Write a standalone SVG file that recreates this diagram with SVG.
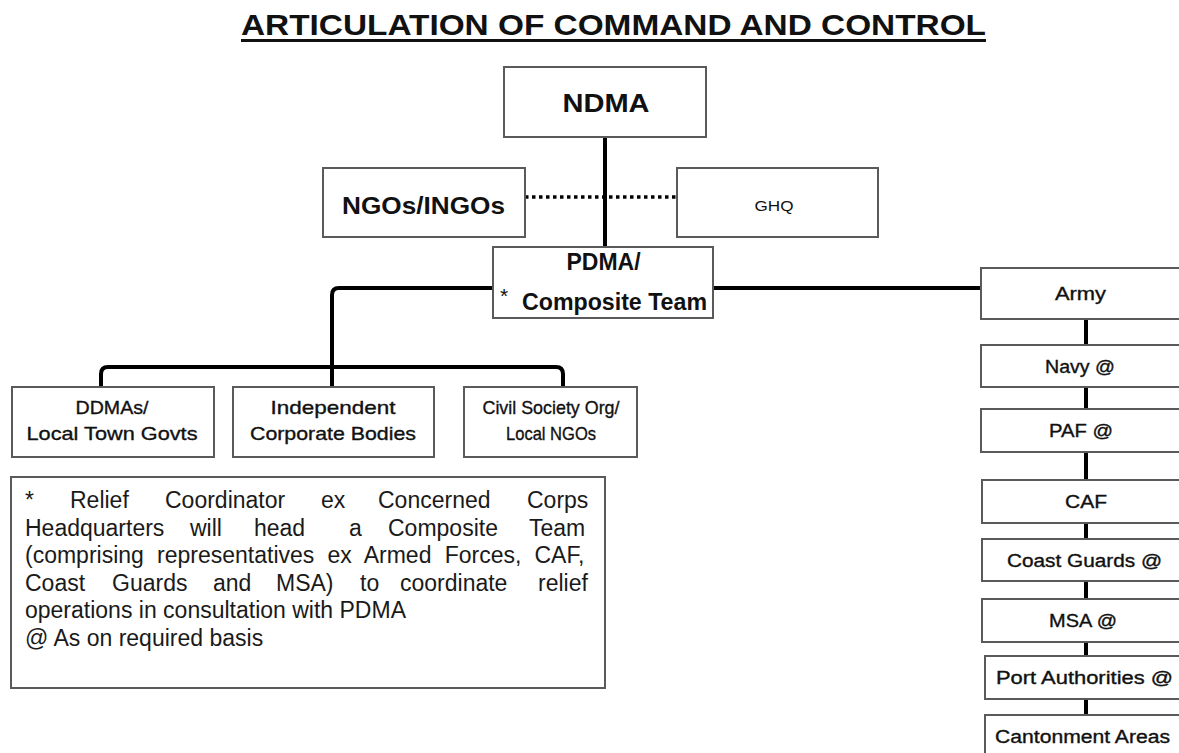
<svg xmlns="http://www.w3.org/2000/svg" width="1179" height="753" viewBox="0 0 1179 753">
<style>
.box{fill:#fff;stroke:#5a5a5a;stroke-width:2}
.conn{fill:none;stroke:#000;stroke-width:4;stroke-linejoin:round}
.dot{fill:none;stroke:#000;stroke-width:3.5;stroke-dasharray:3.5 3.5}
text{font-family:"Liberation Sans",Arial,sans-serif;fill:#111}
.b{font-weight:bold}
.c{text-anchor:middle}
.s{font-size:19px;stroke:#111;stroke-width:0.35}
.r{font-size:18px;stroke:#111;stroke-width:0.35}
.n{font-size:23px;fill:#1a1a1a}
</style>
<rect width="1179" height="753" fill="#fff"/>
<g id="title">
<text class="b c" x="613.5" y="35" font-size="30" textLength="745" lengthAdjust="spacingAndGlyphs">ARTICULATION OF COMMAND AND CONTROL</text>
<line x1="241" y1="40.5" x2="986" y2="40.5" stroke="#111" stroke-width="3"/>
</g>
<g id="connectors">
<line class="conn" x1="605" y1="137" x2="605" y2="247"/>
<line class="dot" x1="525" y1="197" x2="677" y2="197"/>
<path class="conn" d="M493,288 H339 Q332,288 332,295 V387"/>
<path class="conn" d="M101,387 V374 Q101,367 108,367 H556 Q563,367 563,374 V387"/>
<line class="conn" x1="713" y1="288" x2="981" y2="288"/>
<line class="conn" x1="1086" y1="319" x2="1086" y2="345"/>
<line class="conn" x1="1086" y1="387" x2="1086" y2="409"/>
<line class="conn" x1="1086" y1="452" x2="1086" y2="480"/>
<line class="conn" x1="1086" y1="523" x2="1086" y2="539"/>
<line class="conn" x1="1086" y1="581" x2="1086" y2="599"/>
<line class="conn" x1="1086" y1="642" x2="1086" y2="656"/>
<line class="conn" x1="1086" y1="699" x2="1086" y2="715"/>
</g>
<g id="ndma">
<rect class="box" x="504" y="67" width="202" height="70"/>
<text class="b c" x="606" y="112" font-size="25" textLength="87" lengthAdjust="spacingAndGlyphs">NDMA</text>
</g>
<g id="ngos">
<rect class="box" x="323" y="168" width="202" height="69"/>
<text class="b c" x="423.5" y="213.5" font-size="24" textLength="163" lengthAdjust="spacingAndGlyphs">NGOs/INGOs</text>
</g>
<g id="ghq">
<rect class="box" x="677" y="168" width="201" height="69"/>
<text class="c" x="774" y="210.5" font-size="15" textLength="39" lengthAdjust="spacingAndGlyphs">GHQ</text>
</g>
<g id="pdma">
<rect class="box" x="493" y="247" width="220" height="71"/>
<text class="b c" x="603.5" y="270" font-size="23">PDMA/</text>
<text x="500" y="303" font-size="21" fill="#333">*</text>
<text class="b" x="522" y="310" font-size="23" textLength="185" lengthAdjust="spacingAndGlyphs">Composite Team</text>
</g>
<g id="ddmas">
<rect class="box" x="12" y="387" width="202" height="70"/>
<text class="c s" x="112" y="414" textLength="73" lengthAdjust="spacingAndGlyphs">DDMAs/</text>
<text class="c s" x="112" y="440" textLength="171" lengthAdjust="spacingAndGlyphs">Local Town Govts</text>
</g>
<g id="independent">
<rect class="box" x="233" y="387" width="201" height="70"/>
<text class="c s" x="333" y="414" textLength="125" lengthAdjust="spacingAndGlyphs">Independent</text>
<text class="c s" x="333" y="440" textLength="166" lengthAdjust="spacingAndGlyphs">Corporate Bodies</text>
</g>
<g id="civil">
<rect class="box" x="464" y="387" width="173" height="70"/>
<text class="c s" x="551" y="414" textLength="137" lengthAdjust="spacingAndGlyphs">Civil Society Org/</text>
<text class="c s" x="551" y="440" textLength="90" lengthAdjust="spacingAndGlyphs">Local NGOs</text>
</g>
<g id="note">
<rect class="box" x="11" y="477" width="594" height="211"/>
<text class="n" y="508"><tspan x="25">*</tspan><tspan x="70">Relief</tspan><tspan x="165">Coordinator</tspan><tspan x="321">ex</tspan><tspan x="378">Concerned</tspan><tspan x="527">Corps</tspan></text>
<text class="n" y="535.5"><tspan x="25">Headquarters</tspan><tspan x="190">will</tspan><tspan x="254">head</tspan><tspan x="349">a</tspan><tspan x="388">Composite</tspan><tspan x="529">Team</tspan></text>
<text class="n" x="25" y="563" word-spacing="6.8">(comprising representatives ex Armed Forces, CAF,</text>
<text class="n" y="590.5"><tspan x="25">Coast</tspan><tspan x="112">Guards</tspan><tspan x="213">and</tspan><tspan x="276">MSA)</tspan><tspan x="360">to</tspan><tspan x="400">coordinate</tspan><tspan x="538">relief</tspan></text>
<text class="n" x="25" y="618">operations in consultation with PDMA</text>
<text class="n" x="25" y="645.5">@ As on required basis</text>
</g>
<g id="army">
<rect class="box" x="981" y="268" width="205" height="51"/>
<text class="c r" x="1080.5" y="300" textLength="51" lengthAdjust="spacingAndGlyphs">Army</text>
</g>
<g id="navy">
<rect class="box" x="981" y="345" width="205" height="42"/>
<text class="c r" x="1080" y="372.5" textLength="70" lengthAdjust="spacingAndGlyphs">Navy @</text>
</g>
<g id="paf">
<rect class="box" x="981" y="409" width="205" height="43"/>
<text class="c r" x="1081" y="437" textLength="64" lengthAdjust="spacingAndGlyphs">PAF @</text>
</g>
<g id="caf">
<rect class="box" x="982" y="480" width="205" height="43"/>
<text class="c r" x="1086" y="508" textLength="42" lengthAdjust="spacingAndGlyphs">CAF</text>
</g>
<g id="coastguards">
<rect class="box" x="982" y="539" width="205" height="42"/>
<text class="c r" x="1084.5" y="566.5" textLength="155" lengthAdjust="spacingAndGlyphs">Coast Guards @</text>
</g>
<g id="msa">
<rect class="box" x="982" y="599" width="205" height="43"/>
<text class="c r" x="1083" y="627" textLength="68" lengthAdjust="spacingAndGlyphs">MSA @</text>
</g>
<g id="port">
<rect class="box" x="985" y="656" width="205" height="43"/>
<text class="c r" x="1084.5" y="684" textLength="177" lengthAdjust="spacingAndGlyphs">Port Authorities @</text>
</g>
<g id="cantonment">
<rect class="box" x="985" y="715" width="205" height="50"/>
<text class="c r" x="1082.5" y="743" textLength="175" lengthAdjust="spacingAndGlyphs">Cantonment Areas</text>
</g>
</svg>
